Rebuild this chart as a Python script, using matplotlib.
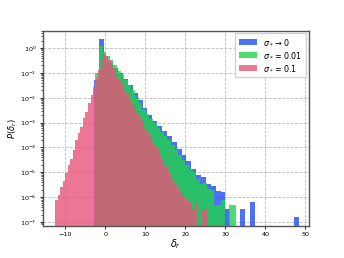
import numpy as np
import matplotlib
matplotlib.use("Agg")
import matplotlib.pyplot as plt

# bin ranges (first edge, last edge)
blue_range = (-2.9, 48.3)
green_range = (-2.5, 32.6)
pink_range = (-12.6, 25.5)

# P(delta_r) per bin, sigma_* -> 0
blue_p = [0.05, 2.3, 0.5, 0.28, 0.16, 0.095, 0.056, 0.032, 0.016, 0.0079,
          0.004, 0.002, 1.12e-3, 7.1e-4, 4.5e-4, 2.8e-4, 1.6e-4, 8.9e-5, 5.0e-5, 2.8e-5,
          1.4e-5, 7.9e-6, 6.3e-6, 3.5e-6, 2.8e-6, 1.8e-6, 1.6e-6, 3.2e-7, 0, 0,
          3.2e-7, 0, 6.5e-7, 0, 0, 0, 0, 0, 0, 0,
          0, 1.6e-7]

# sigma_* = 0.01
green_p = [0.1, 1.2, 0.7, 0.5, 0.32, 0.2, 0.12, 0.079, 0.052, 0.034,
           0.021, 0.011, 0.0063, 0.0035, 0.0022, 0.0014, 0.001, 6.3e-4, 4.2e-4, 2.8e-4,
           2.0e-4, 1.26e-4, 7.9e-5, 5.0e-5, 3.2e-5, 2.0e-5, 1.4e-5, 1.05e-5, 5.6e-6, 3.5e-6,
           3.6e-6, 2.1e-6, 2.0e-6, 5e-7, 5e-7, 8e-7, 0, 4.8e-7, 4.8e-7]

# sigma_* = 0.1
pink_p = [7.8e-7, 1.2e-6, 2.6e-6, 4.3e-6, 9.1e-6, 1.9e-5, 3.4e-5, 7.9e-5, 2.0e-4, 3.8e-4,
          6.9e-4, 1.5e-3, 2.8e-3, 6.2e-3, 1.3e-2, 2.7e-2, 6.3e-2, 0.135, 0.34, 0.59,
          0.50, 0.33, 0.20, 0.13, 0.083, 0.054, 0.035, 0.022, 0.0145, 0.0093,
          0.006, 0.0039, 0.0025, 0.0016, 0.00105, 6.6e-4, 4.3e-4, 2.8e-4, 1.8e-4, 1.1e-4,
          7.6e-5, 4.7e-5, 3.0e-5, 2.0e-5, 1.26e-5, 8.3e-6, 5.2e-6, 3.5e-6, 2.4e-6, 1.6e-6,
          1.26e-6, 1.0e-6, 6.3e-7, 6.3e-7, 3.2e-7, 6.3e-7, 0, 0, 3.2e-7, 3.2e-7]

labels = [r'$\sigma_* \to 0$', r'$\sigma_* = 0.01$', r'$\sigma_* = 0.1$']
colors = ['#1f4ef0', '#22d447', '#e8557a']

fig = plt.figure(figsize=(3.44, 2.58), dpi=100)
ax = fig.add_axes([0.125, 0.125, 0.773, 0.756])

for rng, p, lab, col in zip([blue_range, green_range, pink_range],
                            [blue_p, green_p, pink_p], labels, colors):
    edges = np.linspace(rng[0], rng[1], len(p) + 1)
    ax.bar(edges[:-1], p, width=np.diff(edges), align='edge', color=col,
           alpha=0.8, label=lab, linewidth=0)

ax.set_yscale('log')
ax.set_ylim(10**-7.15, 5)
ax.set_xlim(-15.6, 50.9)
ax.set_xticks([-10, 0, 10, 20, 30, 40, 50])
ax.grid(True, linestyle='--', color='#bbbbbb', linewidth=0.6)
ax.set_axisbelow(True)
ax.tick_params(labelsize=4.6, length=2.5, width=0.6, pad=2)
ax.tick_params(which='minor', length=1.5, width=0.5)
for s in ax.spines.values():
    s.set_color('#555555')
    s.set_linewidth(1.0)
ax.set_xlabel(r'$\delta_r$', fontsize=7, labelpad=0)
ax.set_ylabel(r'$P(\delta_r)$', fontsize=6, labelpad=1)
ax.legend(loc='upper right', fontsize=5.8, handlelength=2.2, fancybox=False,
          framealpha=0.9, borderpad=0.5, borderaxespad=0.3, labelspacing=0.45)
fig.savefig('out.png', dpi=100)
